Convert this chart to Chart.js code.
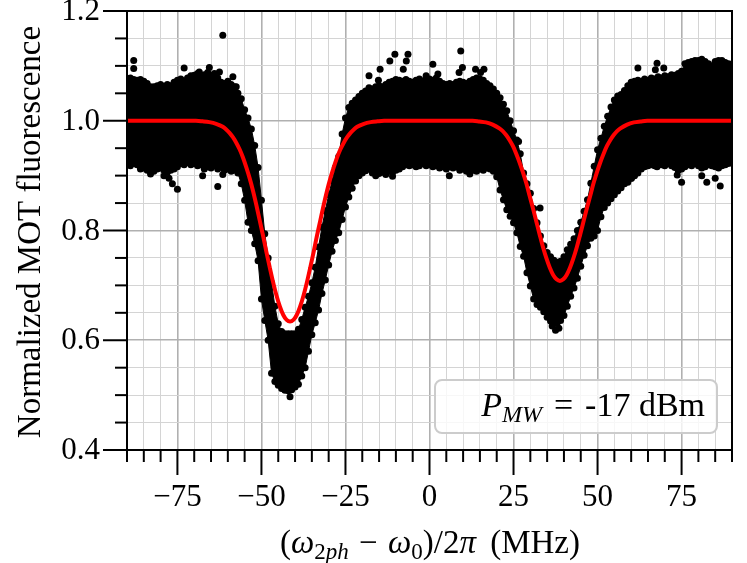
<!DOCTYPE html>
<html><head><meta charset="utf-8">
<script src="https://cdn.jsdelivr.net/npm/chart.js@4.4.0/dist/chart.umd.min.js"></script>
<style>html,body{margin:0;padding:0;background:#fff;}#wrap{width:747px;height:563px;}</style>
</head><body><div id="wrap"><canvas id="c" width="747" height="563"></canvas></div>
<script>
// ---------- data ----------
const xMajorTicks = [-75, -50, -25, 0, 25, 50, 75];
const xTickLabels = ['\u221275', '\u221250', '\u221225', '0', '25', '50', '75'];
const xMinorTicks = [-90,-85,-80,-75,-70,-65,-60,-55,-50,-45,-40,-35,-30,-25,-20,-15,-10,-5,0,5,10,15,20,25,30,35,40,45,50,55,60,65,70,75,80,85,90];
const yMajorTicks = [0.4, 0.6, 0.8, 1.0, 1.2];
const yTickLabels = ['0.4', '0.6', '0.8', '1.0', '1.2'];
const yMinorTicks = [0.4,0.45,0.5,0.55,0.6,0.65,0.7,0.75,0.8,0.85,0.9,0.95,1.0,1.05,1.1,1.15,1.2];

// scatter cloud envelope (read per 1 MHz)
const envX = [-90,-89,-88,-87,-86,-85,-84,-83,-82,-81,-80,-79,-78,-77,-76,-75,-74,-73,-72,-71,-70,-69,-68,-67,-66,-65,-64,-63,-62,-61,-60,-59,-58,-57,-56,-55,-54,-53,-52,-51,-50,-49,-48,-47,-46,-45,-44,-43,-42,-41,-40,-39,-38,-37,-36,-35,-34,-33,-32,-31,-30,-29,-28,-27,-26,-25,-24,-23,-22,-21,-20,-19,-18,-17,-16,-15,-14,-13,-12,-11,-10,-9,-8,-7,-6,-5,-4,-3,-2,-1,0,1,2,3,4,5,6,7,8,9,10,11,12,13,14,15,16,17,18,19,20,21,22,23,24,25,26,27,28,29,30,31,32,33,34,35,36,37,38,39,40,41,42,43,44,45,46,47,48,49,50,51,52,53,54,55,56,57,58,59,60,61,62,63,64,65,66,67,68,69,70,71,72,73,74,75,76,77,78,79,80,81,82,83,84,85,86,87,88,89,90];
const envUpper = [1.075,1.078,1.075,1.074,1.075,1.072,1.068,1.062,1.062,1.064,1.066,1.063,1.066,1.064,1.07,1.074,1.076,1.072,1.078,1.082,1.083,1.086,1.08,1.084,1.088,1.082,1.086,1.078,1.07,1.068,1.072,1.066,1.062,1.05,1.04,1.02,1.005,0.985,0.955,0.915,0.855,0.794,0.75,0.705,0.662,0.63,0.616,0.612,0.612,0.612,0.612,0.62,0.638,0.66,0.68,0.705,0.733,0.77,0.806,0.836,0.865,0.89,0.915,0.935,0.976,1.005,1.024,1.032,1.038,1.044,1.05,1.054,1.06,1.058,1.062,1.064,1.062,1.066,1.07,1.072,1.075,1.074,1.072,1.075,1.072,1.07,1.074,1.076,1.072,1.078,1.076,1.074,1.078,1.072,1.068,1.066,1.068,1.066,1.07,1.072,1.07,1.068,1.072,1.075,1.078,1.076,1.074,1.068,1.064,1.058,1.05,1.042,1.03,1.018,1.0,0.982,0.965,0.94,0.905,0.885,0.868,0.84,0.814,0.79,0.772,0.76,0.752,0.746,0.742,0.744,0.752,0.765,0.775,0.785,0.8,0.815,0.835,0.856,0.886,0.917,0.947,0.968,0.99,1.008,1.025,1.038,1.045,1.048,1.055,1.064,1.07,1.072,1.074,1.072,1.076,1.074,1.078,1.076,1.08,1.078,1.082,1.08,1.084,1.083,1.086,1.09,1.104,1.106,1.108,1.11,1.11,1.112,1.108,1.104,1.1,1.108,1.11,1.11,1.106,1.104,1.1];
const envLower = [0.922,0.918,0.922,0.92,0.912,0.914,0.91,0.912,0.908,0.912,0.914,0.91,0.906,0.91,0.912,0.916,0.922,0.92,0.924,0.92,0.922,0.918,0.92,0.912,0.916,0.914,0.918,0.912,0.916,0.91,0.912,0.908,0.91,0.905,0.885,0.855,0.815,0.8,0.776,0.745,0.675,0.636,0.6,0.54,0.525,0.518,0.512,0.509,0.508,0.51,0.515,0.52,0.535,0.55,0.58,0.61,0.632,0.655,0.685,0.71,0.737,0.762,0.782,0.796,0.82,0.843,0.861,0.877,0.89,0.9,0.905,0.909,0.912,0.905,0.908,0.904,0.906,0.902,0.908,0.906,0.91,0.912,0.916,0.92,0.918,0.92,0.916,0.918,0.922,0.918,0.92,0.916,0.918,0.914,0.916,0.912,0.916,0.914,0.916,0.91,0.912,0.908,0.912,0.91,0.908,0.912,0.91,0.914,0.912,0.908,0.898,0.874,0.856,0.838,0.826,0.814,0.796,0.771,0.753,0.723,0.699,0.675,0.665,0.66,0.652,0.642,0.635,0.63,0.632,0.636,0.645,0.662,0.68,0.695,0.713,0.735,0.755,0.772,0.786,0.79,0.8,0.825,0.842,0.85,0.858,0.865,0.872,0.878,0.885,0.888,0.895,0.9,0.905,0.912,0.916,0.918,0.92,0.918,0.922,0.92,0.918,0.922,0.918,0.915,0.91,0.912,0.916,0.92,0.918,0.922,0.918,0.914,0.916,0.92,0.918,0.916,0.914,0.918,0.92,0.922,0.924];

// isolated points outside the dense band
const outX = [-88,-88,-73,-68.5,-65.5,-62.5,-61.5,-58.5,-57.5,-75,-76.5,-77.5,-67.5,-63,-61.5,-83,-79,-41.5,-18,-14.7,-15.2,-11.8,-10.3,-6.4,-6.9,-7.8,-1,1,2.5,9.3,8.8,9.8,13.7,16.2,15.2,5.9,-16,-11,12,26.5,32.9,36.5,37.5,38.5,60.1,62,67.7,67.2,69.7,67.7,73.7,75,81,82.5,86.5,85];
const outY = [1.11,1.095,1.096,1.089,1.097,1.089,1.156,1.08,1.062,0.875,0.885,0.895,0.9,0.88,0.902,0.903,0.9,0.497,1.082,1.094,1.074,1.109,1.121,1.121,1.109,1.094,1.082,1.103,1.085,1.127,1.088,1.097,1.094,1.094,1.088,0.9,0.9,0.899,0.903,0.962,0.841,0.626,0.618,0.622,0.895,1.096,1.105,1.093,1.096,0.916,0.901,0.888,0.9,0.888,0.881,0.895];

// fitted curve (red)
const fitX = [-90,-80,-69.5,-67.5,-65.5,-63.5,-61.5,-60.5,-59.5,-58.5,-57.5,-56.5,-55.5,-54.5,-53.5,-52.5,-51.5,-50.5,-49.5,-48.5,-47.5,-46.5,-45.5,-44.5,-43.5,-42.5,-41.5,-40.5,-39.5,-38.5,-37.5,-36.5,-35.5,-34.5,-33.5,-32.5,-31.5,-30.5,-29.5,-28.5,-27.5,-26.5,-25.5,-24.5,-23.5,-22.5,-21.5,-19.5,-17.5,-15.5,-13.5,0,12.8,14.8,16.8,18.8,20.8,21.8,22.8,23.8,24.8,25.8,26.8,27.8,28.8,29.8,30.8,31.8,32.8,33.8,34.8,35.8,36.8,37.8,38.8,39.8,40.8,41.8,42.8,43.8,44.8,45.8,46.8,47.8,48.8,49.8,50.8,51.8,52.8,53.8,54.8,55.8,56.8,58.8,60.8,62.8,64.8,75,90];
const fitY = [1.0,1.0,1.0,0.999,0.9975,0.9945,0.989,0.984,0.978,0.970,0.960,0.948,0.933,0.915,0.895,0.872,0.846,0.818,0.790,0.760,0.732,0.705,0.681,0.661,0.646,0.637,0.634,0.637,0.646,0.661,0.681,0.705,0.732,0.760,0.790,0.818,0.846,0.872,0.895,0.915,0.933,0.948,0.960,0.970,0.978,0.984,0.989,0.9945,0.9975,0.999,1.0,1.0,1.0,0.9987,0.997,0.993,0.986,0.981,0.974,0.965,0.954,0.940,0.924,0.906,0.886,0.863,0.840,0.816,0.792,0.769,0.749,0.732,0.719,0.711,0.708,0.711,0.719,0.732,0.749,0.769,0.792,0.816,0.840,0.863,0.886,0.906,0.924,0.940,0.954,0.965,0.974,0.981,0.986,0.993,0.997,0.9987,1.0,1.0,1.0];

const legendText = ['P', 'MW', '=', '-17 dBm'];
const yTitle = 'Normalized MOT fluorescence';

// ---------- drawing ----------
const SERIF = '"Liberation Serif", "DejaVu Serif", serif';
const MAJ_GRID = '#b0b0b0', MIN_GRID = '#d4d4d4';
const pts = (xs, ys) => xs.map((x, i) => ({x: x, y: ys[i]}));
const near = (arr, v) => arr.some(a => Math.abs(a - v) < 1e-9);

function drawRuns(ctx, runs, x0, baseline, align) {
  let total = 0;
  runs.forEach(r => { ctx.font = r.f; r.w = ctx.measureText(r.t).width + (r.gap || 0); total += r.w; });
  let x = align === 'center' ? x0 - total / 2 : (align === 'right' ? x0 - total : x0);
  ctx.textAlign = 'left'; ctx.textBaseline = 'alphabetic';
  runs.forEach(r => { ctx.font = r.f; ctx.fillText(r.t, x + (r.pre || 0), baseline + (r.dy || 0)); x += r.w; });
}

const axesPlugin = {
  id: 'mplAxes',
  afterDraw(chart) {
    const {ctx, chartArea: a, scales: {x, y}} = chart;
    ctx.save();
    ctx.strokeStyle = '#000'; ctx.fillStyle = '#000'; ctx.lineCap = 'butt';
    ctx.lineWidth = 2;
    xMinorTicks.forEach(v => {
      const px = x.getPixelForValue(v), len = near(xMajorTicks, v) ? 25 : 12;
      ctx.beginPath(); ctx.moveTo(px, a.bottom); ctx.lineTo(px, a.bottom + len); ctx.stroke();
    });
    yMinorTicks.forEach(v => {
      const py = y.getPixelForValue(v), len = near(yMajorTicks, v) ? 24 : 12;
      ctx.beginPath(); ctx.moveTo(a.left, py); ctx.lineTo(a.left - len, py); ctx.stroke();
    });
    ctx.strokeRect(a.left, a.top, a.right - a.left, a.bottom - a.top);
    // tick labels
    ctx.font = '31px ' + SERIF;
    ctx.textAlign = 'center'; ctx.textBaseline = 'middle';
    xMajorTicks.forEach((v, i) => ctx.fillText(xTickLabels[i], x.getPixelForValue(v), 498));
    ctx.textAlign = 'right';
    yMajorTicks.forEach((v, i) => ctx.fillText(yTickLabels[i], a.left - 27, y.getPixelForValue(v) + 1));
    // y title
    ctx.save();
    ctx.translate(40, 232); ctx.rotate(-Math.PI / 2);
    ctx.font = '33px ' + SERIF; ctx.textAlign = 'center'; ctx.textBaseline = 'alphabetic';
    ctx.fillText(yTitle, 0, 0);
    ctx.restore();
    // x title
    const R = '33px ' + SERIF, I = 'italic 33px ' + SERIF, Rs = '23px ' + SERIF, Is = 'italic 23px ' + SERIF;
    drawRuns(ctx, [
      {t: '(', f: R}, {t: '\u03c9', f: I}, {t: '2', f: Rs, dy: 6}, {t: 'ph', f: Is, dy: 6},
      {t: ' \u2212 ', f: R, gap: 4, pre: 2}, {t: '\u03c9', f: I}, {t: '0', f: Rs, dy: 6},
      {t: ')/2', f: R}, {t: '\u03c0', f: I}, {t: ' (MHz)', f: R, pre: 6, gap: 6}
    ], 430, 553, 'center');
    // legend box
    ctx.beginPath();
    ctx.roundRect(435, 380, 282, 53, 7);
    ctx.fillStyle = 'rgba(255,255,255,0.8)'; ctx.fill();
    ctx.strokeStyle = '#cccccc'; ctx.lineWidth = 2; ctx.stroke();
    ctx.fillStyle = '#000';
    const LR = '34px ' + SERIF, LI = 'italic 34px ' + SERIF, LIs = 'italic 24px ' + SERIF;
    drawRuns(ctx, [
      {t: legendText[0], f: LI}, {t: legendText[1], f: LIs, dy: 6, gap: 12},
      {t: legendText[2], f: LR, gap: 12}, {t: legendText[3], f: LR}
    ], 705, 416, 'right');
    ctx.restore();
  }
};

const gridOpts = (majors) => ({
  drawTicks: false,
  color: c => (c.tick && near(majors, c.tick.value)) ? MAJ_GRID : MIN_GRID,
  lineWidth: c => (c.tick && near(majors, c.tick.value)) ? 1.6 : 1
});

new Chart(document.getElementById('c'), {
  type: 'scatter',
  data: {datasets: [
    {type: 'line', label: 'fit', data: pts(fitX, fitY), borderColor: '#ff0000', borderWidth: 4,
     pointRadius: 0, fill: false, order: 0, clip: 0, cubicInterpolationMode: 'monotone'},
    {type: 'line', label: 'data upper', data: pts(envX, envUpper), borderColor: '#000', backgroundColor: '#000',
     borderWidth: 1, pointRadius: 3.5, pointBorderWidth: 0, pointBackgroundColor: '#000', fill: '+1', order: 2, clip: 0, tension: 0},
    {type: 'line', label: 'data lower', data: pts(envX, envLower), borderColor: '#000', backgroundColor: '#000',
     borderWidth: 1, pointRadius: 3.5, pointBorderWidth: 0, pointBackgroundColor: '#000', fill: false, order: 3, clip: 0, tension: 0},
    {type: 'scatter', label: 'data', data: pts(outX, outY), backgroundColor: '#000', borderWidth: 0,
     pointRadius: 3.5, order: 1, clip: 0}
  ]},
  options: {
    responsive: false, animation: false, devicePixelRatio: 1, events: [],
    layout: {padding: {top: 11, right: 15, left: 0, bottom: 0}},
    plugins: {legend: {display: false}, tooltip: {enabled: false}},
    scales: {
      x: {type: 'linear', min: -90, max: 90,
          afterBuildTicks: s => { s.ticks = xMinorTicks.map(v => ({value: v})); },
          afterFit: s => { s.height = 113; },
          ticks: {display: false}, grid: gridOpts(xMajorTicks), border: {display: false}},
      y: {type: 'linear', min: 0.4, max: 1.2,
          afterBuildTicks: s => { s.ticks = yMinorTicks.map(v => ({value: v})); },
          afterFit: s => { s.width = 127; },
          ticks: {display: false}, grid: gridOpts(yMajorTicks), border: {display: false}}
    }
  },
  plugins: [axesPlugin]
});
</script></body></html>
